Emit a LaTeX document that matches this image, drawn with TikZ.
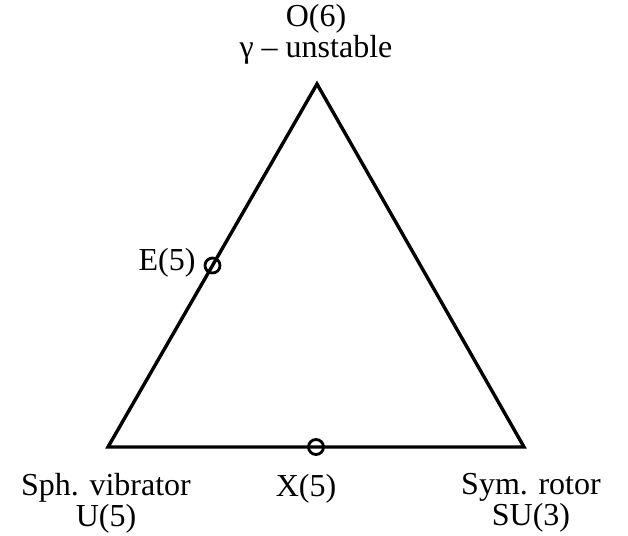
\documentclass[tikz,border=0pt]{standalone}
\usepackage{fontspec}
\setmainfont{Liberation Serif}
\usetikzlibrary{positioning, calc}
\tikzset{
    corner/.style={inner sep=0pt, minimum size=0pt},
    label/.style={align=center, inner sep=0pt, font=\fontsize{32}{31}\selectfont},
    point/.style={circle, draw=black, line width=2.8pt, minimum size=15pt, inner sep=0pt},
    side/.style={line width=3.4pt, line join=miter}
}

\begin{document}
\begin{tikzpicture}[x=1pt, y=-1pt]
\useasboundingbox (0,0) rectangle (628,535);

% Corners
\coordinate (o6) at (317,84);
\coordinate (u5) at (108,447);
\coordinate (su3) at (524,447);

% Triangle
\draw[side] (o6) -- (su3) -- (u5) -- cycle;

% Points on the sides
\node[point] (e5) at ($(o6)!0.5!(u5)$) {};
\node[point] (x5) at ($(u5)!0.5!(su3)$) {};

% Labels
\node[label] (o6lab) at (316,34) {O(6)\\γ – unstable};
\node[label, left=8pt of e5, yshift=3pt] (e5lab) {E(5)};
\node[label] (u5lab) at (106,503) {Sph. vibrator\\U(5)};
\node[label] (x5lab) at (306,489) {X(5)};
\node[label] (su3lab) at (531,503) {Sym. rotor\\SU(3)};

\end{tikzpicture}
\end{document}
